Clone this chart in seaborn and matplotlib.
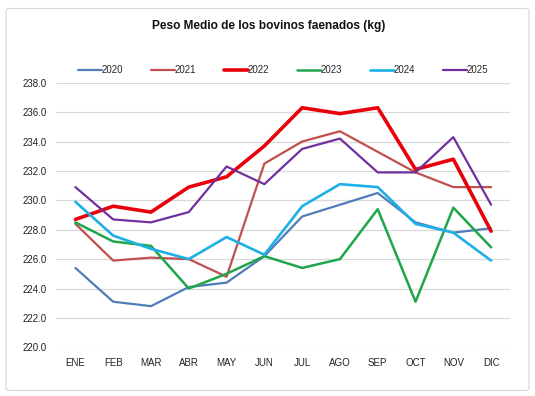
import pandas as pd
import matplotlib.pyplot as plt
import seaborn as sns
from matplotlib.patches import FancyBboxPatch

# Data
meses = ["ENE", "FEB", "MAR", "ABR", "MAY", "JUN", "JUL", "AGO", "SEP", "OCT", "NOV", "DIC"]
peso_2020 = [225.4, 223.1, 222.8, 224.1, 224.4, 226.2, 228.9, 229.7, 230.5, 228.5, 227.8, 228.1]
peso_2021 = [228.4, 225.9, 226.1, 226.0, 224.8, 232.5, 234.0, 234.7, 233.3, 231.9, 230.9, 230.9]
peso_2022 = [228.7, 229.6, 229.2, 230.9, 231.6, 233.7, 236.3, 235.9, 236.3, 232.1, 232.8, 227.9]
peso_2023 = [228.5, 227.2, 226.9, 224.0, 225.0, 226.2, 225.4, 226.0, 229.4, 223.1, 229.5, 226.8]
peso_2024 = [229.9, 227.6, 226.7, 226.0, 227.5, 226.3, 229.6, 231.1, 230.9, 228.4, 227.8, 225.9]
peso_2025 = [230.9, 228.7, 228.5, 229.2, 232.3, 231.1, 233.5, 234.2, 231.9, 231.9, 234.3, 229.7]

series = {
    "2020": peso_2020,
    "2021": peso_2021,
    "2022": peso_2022,
    "2023": peso_2023,
    "2024": peso_2024,
    "2025": peso_2025,
}
colores = {"2020": "#4F7DB8", "2021": "#C0504D", "2022": "#E8000B",
           "2023": "#1FA64A", "2024": "#1CB0E6", "2025": "#7030A0"}
grosor = {"2020": 1.6, "2021": 1.6, "2022": 2.6, "2023": 1.8, "2024": 1.9, "2025": 1.6}

df = pd.concat([pd.DataFrame({"mes": meses, "peso": v, "anio": k}) for k, v in series.items()])

sns.set_style("white")
plt.rcParams["font.family"] = ["Liberation Sans", "DejaVu Sans"]

fig = plt.figure(figsize=(5.35, 3.96), dpi=100)
ax = fig.add_axes([0.1056, 0.123, 0.8477, 0.668])

for anio in series:
    sns.lineplot(data=df[df["anio"] == anio], x="mes", y="peso", color=colores[anio],
                 linewidth=grosor[anio], label=anio, ax=ax, sort=False)

ax.set_xlim(-0.5, 11.5)
ax.set_ylim(220, 238)
ax.set_yticks([220 + 2 * i for i in range(10)])
ax.set_yticklabels([f"{220 + 2 * i:.1f}" for i in range(10)])
ax.grid(axis="y", color="#d9d9d9", linewidth=0.9)
ax.grid(axis="x", visible=False)
sns.despine(ax=ax, left=True, top=True, right=True, bottom=True)
ax.tick_params(axis="both", length=0, labelsize=7, labelcolor="#222222")
ax.tick_params(axis="y", pad=7)
ax.tick_params(axis="x", pad=8)
ax.set_xlabel("")
ax.set_ylabel("")

ax.legend(loc="lower center", bbox_to_anchor=(0.5, 0.995), ncol=6, frameon=False,
          fontsize=7, handlelength=2.4, handletextpad=0.0, columnspacing=2.9)

fig.text(0.502, 0.935, "Peso Medio de los bovinos faenados (kg)", ha="center", va="center",
         fontsize=8.6, fontweight="bold", color="#111111")

borde = FancyBboxPatch((6 / 535, 1 - 390.5 / 396), 523 / 535, 382 / 396,
                       boxstyle="round,pad=0,rounding_size=0.006", transform=fig.transFigure,
                       facecolor="none", edgecolor="#d9d9d9", linewidth=0.9)
fig.patches.append(borde)

fig.savefig("out.png", dpi=100)
